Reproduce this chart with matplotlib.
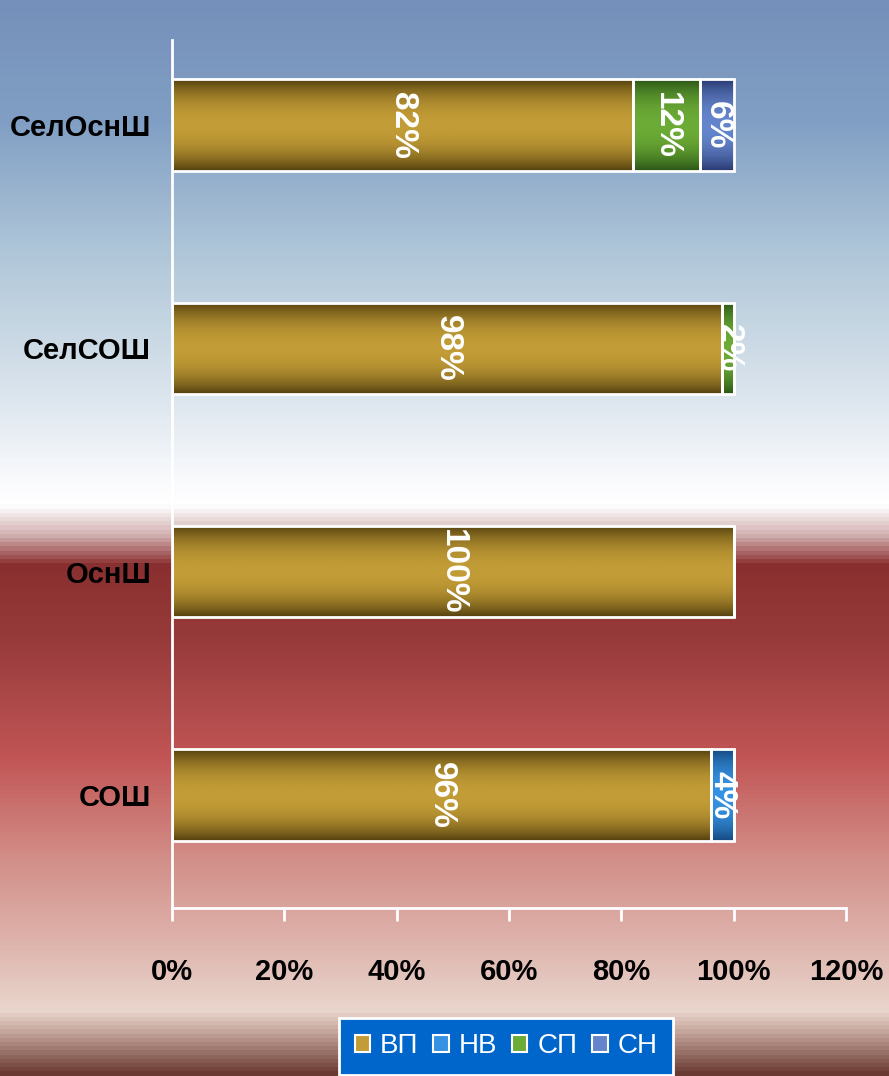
import numpy as np
import matplotlib
matplotlib.use("Agg")
import matplotlib.pyplot as plt
from matplotlib.colors import LinearSegmentedColormap
from matplotlib.patches import Patch

# ---- data ----
categories = ["СОШ", "ОснШ", "СелСОШ", "СелОснШ"]
series_names = ["ВП", "НВ", "СП", "СН"]
vp = [96, 100, 98, 82]
nv = [4, 0, 0, 0]
sp = [0, 0, 2, 12]
sn = [0, 0, 0, 6]
xtick_vals = [0, 20, 40, 60, 80, 100, 120]

series_values = [vp, nv, sp, sn]
# (dark edge, bright centre)
series_colors = [("#56420f", "#c29c36"),
                 ("#174a82", "#3592e2"),
                 ("#2b5716", "#6cab36"),
                 ("#2a3a72", "#6485cc")]

W, H = 889, 1076
fig = plt.figure(figsize=(W / 100, H / 100), dpi=100)

# ---- background gradient ----
bg = fig.add_axes([0, 0, 1, 1], zorder=-10)
stops = [(0, "#7590ba"), (120, "#819fc4"), (250, "#afc6d8"), (400, "#dde6ee"),
         (470, "#f6f8fb"), (505, "#ffffff"), (535, "#d2b0b0"), (565, "#8a2f2f"),
         (640, "#973a3a"), (760, "#c25656"), (860, "#d28e88"), (960, "#e0bbb3"),
         (1012, "#e9d6cd"), (1032, "#c9aba1"), (1076, "#6a3a32")]
cmap_bg = LinearSegmentedColormap.from_list("bg", [(p / H, c) for p, c in stops])
grad = np.linspace(0, 1, 1076).reshape(-1, 1)
bg.imshow(grad, cmap=cmap_bg, aspect="auto", extent=(0, 1, 0, 1), origin="upper")
bg.set_axis_off()

# ---- main axes ----
left, right = 172 / W, 846 / W
bottom, top = 1 - 908 / H, 1 - 40 / H
ax = fig.add_axes([left, bottom, right - left, top - bottom])
ax.patch.set_alpha(0)

fam = ["Liberation Sans", "DejaVu Sans"]

y = np.arange(len(categories))
bar_h = 0.41
t = np.linspace(0, 1, 64)
prof = 1 - np.abs(2 * t - 1) ** 2.2
prof = prof.reshape(-1, 1)

cum = np.zeros(len(categories))
for vals, (dark, bright), name in zip(series_values, series_colors, series_names):
    vals = np.array(vals, dtype=float)
    bars = ax.barh(y, vals, left=cum, height=bar_h, facecolor="none",
                   edgecolor="white", linewidth=2, zorder=3, label=name)
    cm = LinearSegmentedColormap.from_list(name, [dark, bright])
    for b, v, l0, yi in zip(bars, vals, cum, y):
        if v <= 0:
            continue
        im = ax.imshow(prof, cmap=cm, vmin=0, vmax=1, aspect="auto",
                       extent=(l0, l0 + v, yi - bar_h / 2, yi + bar_h / 2),
                       origin="upper", zorder=2, interpolation="bilinear")
        im.set_clip_path(b)
        ax.text(l0 + v / 2, yi, f"{int(v)}%", rotation=270, ha="center",
                va="center", color="white", fontsize=24, fontweight="bold",
                family=fam, zorder=5)
    cum = cum + vals

ax.set_xlim(0, 120)
ax.set_ylim(-0.506, 3.381)
ax.set_xticks(xtick_vals)
ax.set_xticklabels([f"{v}%" for v in xtick_vals])
ax.set_yticks(y)
ax.set_yticklabels(categories)

for s in ["top", "right"]:
    ax.spines[s].set_visible(False)
for s in ["left", "bottom"]:
    ax.spines[s].set_color("white")
    ax.spines[s].set_linewidth(2)

ax.tick_params(axis="x", colors="white", length=9, width=2, direction="out",
               pad=27, labelcolor="black", labelsize=21)
ax.tick_params(axis="y", length=0, pad=15, labelcolor="black", labelsize=21)
for lab in ax.get_xticklabels() + ax.get_yticklabels():
    lab.set_fontweight("bold")
    lab.set_family(fam)

# ---- legend ----
handles = [Patch(facecolor=br, edgecolor="white", linewidth=1.5) for _, br in series_colors]
leg = fig.legend(handles, series_names, loc="upper center",
                 bbox_to_anchor=(506 / W, 1 - 1018 / H), ncol=4, frameon=True,
                 fancybox=False, handlelength=0.55, handleheight=0.55,
                 handletextpad=0.35, columnspacing=0.55, borderpad=0.55,
                 borderaxespad=0, prop={"family": fam, "size": 20})
frame = leg.get_frame()
frame.set_facecolor("#0066cc")
frame.set_edgecolor("white")
frame.set_linewidth(2)
frame.set_alpha(1)
for txt in leg.get_texts():
    txt.set_color("white")

fig.savefig("out.png", dpi=100)
